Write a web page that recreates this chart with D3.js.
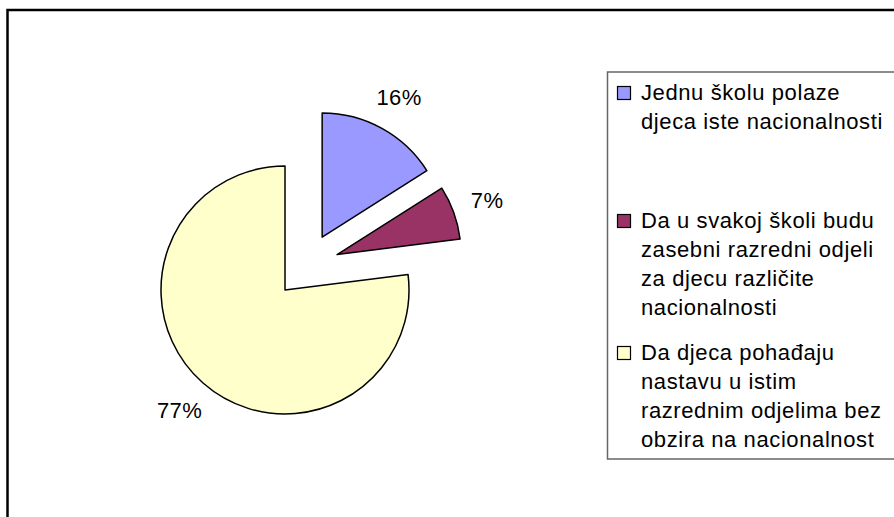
<!DOCTYPE html>
<html>
<head>
<meta charset="utf-8">
<script src="https://cdn.jsdelivr.net/npm/d3@7"></script>
<style>
  html, body { margin: 0; padding: 0; background: #fff; }
  svg { display: block; font-family: Arial, "Liberation Sans", sans-serif; }
</style>
</head>
<body>
<div id="chart"></div>
<script>
// podaci
const categories = [
    "Jednu školu polaze djeca iste nacionalnosti",
    "Da u svakoj školi budu zasebni razredni odjeli za djecu različite nacionalnosti",
    "Da djeca pohađaju nastavu u istim razrednim odjelima bez obzira na nacionalnost"
];
const legendLines = [
    ["Jednu školu polaze", "djeca iste nacionalnosti"],
    ["Da u svakoj školi budu", "zasebni razredni odjeli", "za djecu različite", "nacionalnosti"],
    ["Da djeca pohađaju", "nastavu u istim", "razrednim odjelima bez", "obzira na nacionalnost"]
];
const values = [16, 7, 77];
const colors = ["#9999FF", "#993366", "#FFFFCC"];

const width = 894, height = 517;

const svg = d3.select("#chart")
    .append("svg")
    .attr("width", width)
    .attr("height", height);

svg.append("rect")
    .attr("width", width)
    .attr("height", height)
    .attr("fill", "#fff");

// vanjski okvir
svg.append("rect")
    .attr("x", 7.5)
    .attr("y", 10)
    .attr("width", 920)
    .attr("height", 540)
    .attr("fill", "none")
    .attr("stroke", "#000")
    .attr("stroke-width", 2.5);

// pita
const cx = 306.5, cy = 265.6;
const radius = 124;
const explode = 32.5;
const labelRadius = 192;

const pie = d3.pie().sort(null).value(d => d);
const arcs = pie(values);
const arc = d3.arc().innerRadius(0).outerRadius(radius);

const g = svg.append("g").attr("transform", `translate(${cx},${cy})`);

const mid = d => (d.startAngle + d.endAngle) / 2;

g.selectAll("path.slice")
    .data(arcs)
    .enter()
    .append("path")
    .attr("class", "slice")
    .attr("transform", d => `translate(${Math.sin(mid(d)) * explode},${-Math.cos(mid(d)) * explode})`)
    .attr("d", arc)
    .attr("fill", (d, i) => colors[i])
    .attr("stroke", "#000")
    .attr("stroke-width", 1.5)
    .attr("stroke-linejoin", "round");

g.selectAll("text.pct")
    .data(arcs)
    .enter()
    .append("text")
    .attr("class", "pct")
    .attr("x", d => Math.sin(mid(d)) * labelRadius)
    .attr("y", d => -Math.cos(mid(d)) * labelRadius)
    .attr("dy", "0.36em")
    .attr("text-anchor", "middle")
    .style("font-size", "22px")
    .style("letter-spacing", "0.4px")
    .attr("fill", "#000")
    .text(d => Math.round(d.value / d3.sum(values) * 100) + "%");

// legenda
const legend = svg.append("g");
legend.append("rect")
    .attr("x", 607.5)
    .attr("y", 72)
    .attr("width", 320)
    .attr("height", 387)
    .attr("fill", "#fff")
    .attr("stroke", "#666")
    .attr("stroke-width", 1.5);

const firstBaselines = [100, 228, 360];
const lineStep = 29;

categories.forEach((c, i) => {
    const item = legend.append("g").attr("class", "legend-item");
    item.append("rect")
        .attr("x", 617.5)
        .attr("y", firstBaselines[i] - 13.5)
        .attr("width", 13)
        .attr("height", 13)
        .attr("fill", colors[i])
        .attr("stroke", "#000")
        .attr("stroke-width", 1.2);
    const t = item.append("text")
        .attr("x", 641)
        .attr("y", firstBaselines[i])
        .style("font-size", "22px")
        .style("letter-spacing", "0.6px")
        .attr("fill", "#000");
    legendLines[i].forEach((line, j) => {
        t.append("tspan")
            .attr("x", 641)
            .attr("y", firstBaselines[i] + j * lineStep)
            .text(line);
    });
});
</script>
</body>
</html>
